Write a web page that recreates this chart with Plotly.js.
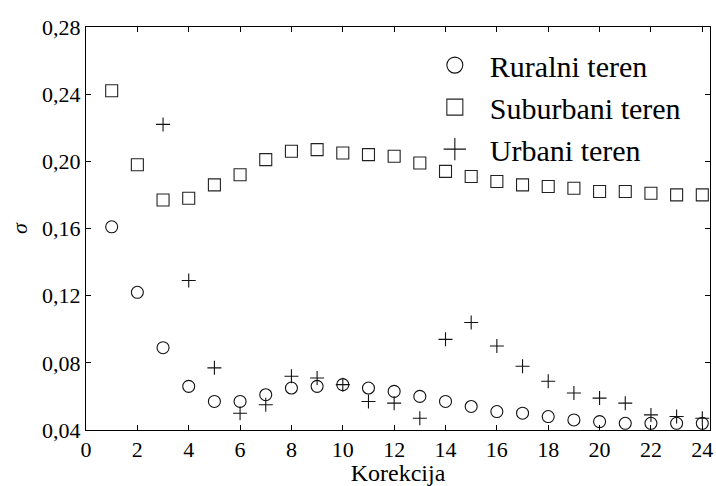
<!DOCTYPE html>
<html>
<head>
<meta charset="utf-8">
<script src="https://cdn.plot.ly/plotly-3.0.1.min.js"></script>
<style>html,body{margin:0;padding:0;background:#fff;}#chart{width:716px;height:486px;}</style>
</head>
<body>
<div id="chart"></div>
<script>
var korekcija = [1,2,3,4,5,6,7,8,9,10,11,12,13,14,15,16,17,18,19,20,21,22,23,24];
var ruralni = [0.161,0.122,0.089,0.066,0.057,0.057,0.061,0.065,0.066,0.067,0.065,0.063,0.060,0.057,0.054,0.051,0.050,0.048,0.046,0.045,0.044,0.044,0.044,0.044];
var suburbani = [0.242,0.198,0.177,0.178,0.186,0.192,0.201,0.206,0.207,0.205,0.204,0.203,0.199,0.194,0.191,0.188,0.186,0.185,0.184,0.182,0.182,0.181,0.180,0.180];
var urbaniX = [3,4,5,6,7,8,9,10,11,12,13,14,15,16,17,18,19,20,21,22,23,24];
var urbani = [0.222,0.129,0.077,0.050,0.055,0.072,0.071,0.067,0.057,0.056,0.047,0.094,0.104,0.090,0.078,0.069,0.062,0.059,0.056,0.049,0.048,0.047];
var names = ['Ruralni teren','Suburbani teren','Urbani teren'];
var yTicks = [0.04,0.08,0.12,0.16,0.20,0.24,0.28];
var xTicks = [0,2,4,6,8,10,12,14,16,18,20,22,24];

var series = [
  {x: korekcija, y: ruralni, symbol: 'circle-open', size: 12, color: '#111', lw: 1.1},
  {x: korekcija, y: suburbani, symbol: 'square-open', size: 12, color: '#222', lw: 1.1},
  {x: urbaniX, y: urbani, symbol: 'cross-thin-open', size: 10, color: '#111', lw: 1.1}
];
var traces = [];
series.forEach(function (s, i) {
  traces.push({x: s.x, y: s.y, name: names[i], mode: 'markers', type: 'scatter', cliponaxis: false,
    showlegend: false, legendgroup: 'g' + i,
    marker: {symbol: s.symbol, size: s.size, color: s.color, line: {width: s.lw, color: s.color}}});
});
series.forEach(function (s, i) {
  traces.push({x: [null], y: [null], name: names[i], mode: 'markers', type: 'scatter',
    showlegend: true, legendgroup: 'g' + i,
    marker: {symbol: s.symbol, size: 16, color: s.color, line: {width: 1.1, color: s.color}}});
});
function axis(extra) {
  var a = {showgrid: false, zeroline: false, showline: true, linecolor: '#000', linewidth: 1,
    mirror: 'ticks', ticks: 'inside', ticklen: 5, tickwidth: 1, tickcolor: '#000',
    tickfont: {size: 22, color: '#000'}};
  for (var k in extra) a[k] = extra[k];
  return a;
}
var layout = {
  width: 716, height: 486,
  font: {family: 'Liberation Serif', color: '#000', size: 22},
  margin: {l: 86, r: 6, t: 27, b: 56},
  paper_bgcolor: '#fff', plot_bgcolor: '#fff',
  separators: ', ',
  showlegend: true,
  legend: {x: 0.535, y: 0.97, xanchor: 'left', yanchor: 'top', bgcolor: 'rgba(0,0,0,0)',
    font: {size: 30, color: '#000'}, itemwidth: 60, tracegroupgap: 0},
  xaxis: axis({range: [0, 24.3], tickvals: xTicks, ticktext: xTicks.map(String),
    title: {text: 'Korekcija', font: {size: 24, color: '#000'}, standoff: 1}}),
  yaxis: axis({range: [0.04, 0.28], tickvals: yTicks, tickformat: '.2f',
    title: {text: '<i>σ</i>', font: {size: 22, color: '#000'}, standoff: 8}})
};
Plotly.newPlot('chart', traces, layout, {displayModeBar: false, staticPlot: true});
</script>
</body>
</html>
